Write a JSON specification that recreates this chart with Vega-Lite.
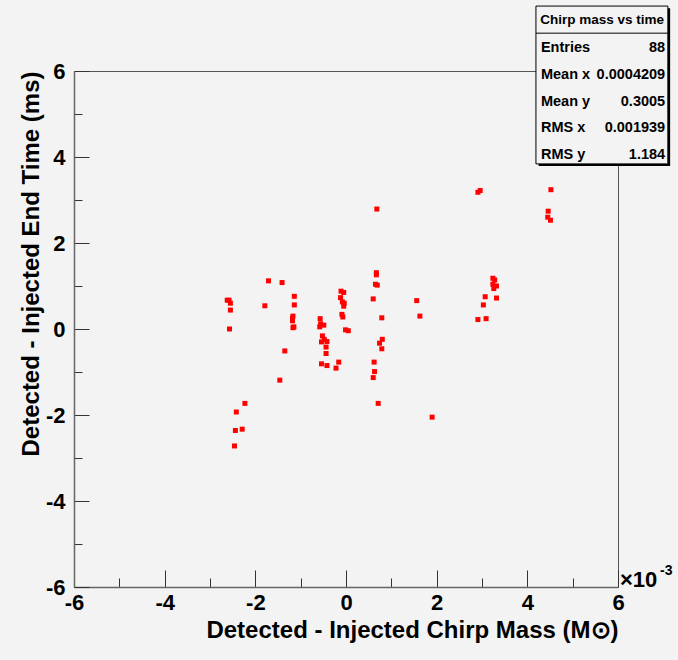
{
  "$schema": "https://vega.github.io/schema/vega-lite/v6.json",
  "width": 544,
  "height": 516,
  "autosize": {"type": "none"},
  "padding": {"left": 74, "top": 71, "right": 60, "bottom": 73},
  "background": "#f3f3f3",
  "config": {
    "view": {"stroke": "#555555", "strokeWidth": 1, "fill": "#f3f3f3"},
    "font": "Liberation Sans"
  },
  "datasets": {
    "points": [
      {"dm": -1.71, "dt": 1.12}, {"dm": -1.41, "dt": 1.08}, {"dm": -1.14, "dt": 0.76}, {"dm": -1.14, "dt": 0.56},
      {"dm": -1.17, "dt": 0.30}, {"dm": -1.18, "dt": 0.25}, {"dm": -1.18, "dt": 0.19}, {"dm": -1.17, "dt": 0.03},
      {"dm": -1.15, "dt": 0.05}, {"dm": -1.79, "dt": 0.54}, {"dm": -2.62, "dt": 0.67}, {"dm": -2.58, "dt": 0.67},
      {"dm": -2.55, "dt": 0.60}, {"dm": -2.55, "dt": 0.44}, {"dm": -2.57, "dt": 0.0}, {"dm": -1.35, "dt": -0.51},
      {"dm": -1.46, "dt": -1.19}, {"dm": -2.23, "dt": -1.73}, {"dm": -2.42, "dt": -1.93}, {"dm": -2.44, "dt": -2.36},
      {"dm": -2.29, "dt": -2.33}, {"dm": -2.46, "dt": -2.72},
      {"dm": -0.57, "dt": 0.24}, {"dm": -0.56, "dt": 0.12}, {"dm": -0.49, "dt": 0.09}, {"dm": -0.58, "dt": 0.05},
      {"dm": -0.52, "dt": -0.16}, {"dm": -0.48, "dt": -0.24}, {"dm": -0.54, "dt": -0.30}, {"dm": -0.42, "dt": -0.29},
      {"dm": -0.44, "dt": -0.42}, {"dm": -0.44, "dt": -0.57}, {"dm": -0.54, "dt": -0.81}, {"dm": -0.42, "dt": -0.85},
      {"dm": -0.16, "dt": -0.77}, {"dm": -0.22, "dt": -0.91},
      {"dm": -0.11, "dt": 0.88}, {"dm": -0.05, "dt": 0.85}, {"dm": -0.12, "dt": 0.73}, {"dm": -0.08, "dt": 0.63},
      {"dm": -0.04, "dt": 0.60}, {"dm": -0.05, "dt": 0.53}, {"dm": -0.09, "dt": 0.34}, {"dm": -0.07, "dt": 0.28},
      {"dm": -0.01, "dt": -0.02}, {"dm": 0.05, "dt": -0.04},
      {"dm": 0.67, "dt": 1.31}, {"dm": 0.67, "dt": 1.26}, {"dm": 0.65, "dt": 1.04}, {"dm": 0.69, "dt": 1.02},
      {"dm": 0.60, "dt": 0.70}, {"dm": 0.79, "dt": 0.26}, {"dm": 0.80, "dt": -0.24}, {"dm": 0.74, "dt": -0.33},
      {"dm": 0.79, "dt": -0.46}, {"dm": 0.62, "dt": -0.77}, {"dm": 0.63, "dt": -0.99}, {"dm": 0.60, "dt": -1.13},
      {"dm": 0.71, "dt": -1.73}, {"dm": 0.68, "dt": 2.79},
      {"dm": 2.91, "dt": 3.18}, {"dm": 2.96, "dt": 3.22}, {"dm": 4.52, "dt": 3.24}, {"dm": 4.46, "dt": 2.74},
      {"dm": 4.45, "dt": 2.60}, {"dm": 4.51, "dt": 2.53}, {"dm": 3.24, "dt": 1.18}, {"dm": 3.28, "dt": 1.14},
      {"dm": 3.24, "dt": 1.04}, {"dm": 3.32, "dt": 1.00}, {"dm": 3.26, "dt": 0.94}, {"dm": 3.07, "dt": 0.75},
      {"dm": 3.32, "dt": 0.72}, {"dm": 3.03, "dt": 0.56}, {"dm": 2.91, "dt": 0.22}, {"dm": 3.09, "dt": 0.24},
      {"dm": 1.56, "dt": 0.66}, {"dm": 1.63, "dt": 0.30}, {"dm": 1.90, "dt": -2.05}
    ],
    "stats": [
      {"stat": "Entries", "value": "88"},
      {"stat": "Mean x", "value": "0.0004209"},
      {"stat": "Mean y", "value": "0.3005"},
      {"stat": "RMS x", "value": "0.001939"},
      {"stat": "RMS y", "value": "1.184"}
    ],
    "one": [{"name": "Chirp mass vs time"}]
  },
  "layer": [
    {
      "layer": [
        {
          "data": {"name": "points"},
          "mark": {"type": "point", "shape": "square", "filled": true, "size": 25, "color": "#ff0000", "opacity": 1},
          "encoding": {
            "x": {
              "field": "dm", "type": "quantitative",
              "scale": {"domain": [-6, 6], "nice": false, "zero": false},
              "title": "Detected - Injected Chirp Mass (M⊙)",
              "axis": {
                "values": [-6, -5.5, -5, -4.5, -4, -3.5, -3, -2.5, -2, -1.5, -1, -0.5, 0, 0.5, 1, 1.5, 2, 2.5, 3, 3.5, 4, 4.5, 5, 5.5, 6],
                "labelExpr": "datum.value % 2 === 0 ? '' + datum.value : ''",
                "tickSize": {"condition": {"test": "datum.value % 2 === 0", "value": -17}, "value": -9},
                "tickColor": "#333333", "domainColor": "#666666", "domainWidth": 1.5,
                "labelFontWeight": "bold", "labelFontSize": 22, "labelColor": "#000000",
                "labelFlush": false, "labelOverlap": false, "labelPadding": 22,
                "titleFontSize": 24, "titleFontWeight": "bold", "titleColor": "#000000",
                "titleAnchor": "end", "titlePadding": -3, "grid": false
              }
            },
            "y": {
              "field": "dt", "type": "quantitative",
              "scale": {"domain": [-6, 6], "nice": false, "zero": false},
              "title": "Detected - Injected End Time (ms)",
              "axis": {
                "values": [-6, -5.5, -5, -4.5, -4, -3.5, -3, -2.5, -2, -1.5, -1, -0.5, 0, 0.5, 1, 1.5, 2, 2.5, 3, 3.5, 4, 4.5, 5, 5.5, 6],
                "labelExpr": "datum.value % 2 === 0 ? '' + datum.value : ''",
                "tickSize": {"condition": {"test": "datum.value % 2 === 0", "value": -15}, "value": -8},
                "tickColor": "#333333", "domainColor": "#666666", "domainWidth": 1.5,
                "labelFontWeight": "bold", "labelFontSize": 22, "labelColor": "#000000",
                "labelFlush": false, "labelOverlap": false, "labelPadding": 24,
                "titleFontSize": 24, "titleFontWeight": "bold", "titleColor": "#000000",
                "titleAnchor": "end", "titlePadding": 2, "grid": false
              }
            }
          }
        },
        {
          "data": {"name": "one"},
          "mark": {"type": "rect", "fill": "#000000"},
          "encoding": {"x": {"datum": 4.25}, "x2": {"datum": 7.15}, "y": {"datum": 7.46}, "y2": {"datum": 3.79}}
        },
        {
          "data": {"name": "one"},
          "mark": {"type": "rect", "fill": "#f3f3f3", "stroke": "#000000", "strokeWidth": 1},
          "encoding": {"x": {"datum": 4.19}, "x2": {"datum": 7.10}, "y": {"datum": 7.51}, "y2": {"datum": 3.84}}
        },
        {
          "data": {"name": "one"},
          "mark": {"type": "rule", "color": "#000000", "strokeWidth": 1},
          "encoding": {"x": {"datum": 4.19}, "x2": {"datum": 7.10}, "y": {"datum": 6.88}}
        },
        {
          "data": {"name": "one"},
          "mark": {"type": "text", "fontSize": 13.5, "fontWeight": "bold", "color": "#000000", "align": "center", "baseline": "middle"},
          "encoding": {"x": {"datum": 5.65}, "y": {"datum": 7.19}, "text": {"field": "name"}}
        },
        {
          "data": {"values": [{"t": "×10"}]},
          "mark": {"type": "text", "fontSize": 22, "fontWeight": "bold", "color": "#000000", "align": "left", "baseline": "alphabetic", "dx": 2, "dy": 0},
          "encoding": {"x": {"datum": 6}, "y": {"datum": -6}, "text": {"field": "t"}}
        },
        {
          "data": {"values": [{"t": "-3"}]},
          "mark": {"type": "text", "fontSize": 14, "fontWeight": "bold", "color": "#000000", "align": "left", "baseline": "alphabetic", "dx": 42, "dy": -12},
          "encoding": {"x": {"datum": 6}, "y": {"datum": -6}, "text": {"field": "t"}}
        }
      ]
    },
    {
      "data": {"name": "stats"},
      "encoding": {
        "y": {"field": "stat", "type": "ordinal", "scale": {"type": "point", "domain": ["Entries", "Mean x", "Mean y", "RMS x", "RMS y"], "range": [-23, 84], "padding": 0}, "axis": null}
      },
      "layer": [
        {
          "mark": {"type": "text", "fontSize": 14.5, "fontWeight": "bold", "color": "#000000", "align": "left", "baseline": "middle"},
          "encoding": {"x": {"datum": 4.30}, "text": {"field": "stat"}}
        },
        {
          "mark": {"type": "text", "fontSize": 14.5, "fontWeight": "bold", "color": "#000000", "align": "right", "baseline": "middle"},
          "encoding": {"x": {"datum": 7.04}, "text": {"field": "value"}}
        }
      ]
    }
  ],
  "resolve": {"scale": {"y": "independent"}}
}
